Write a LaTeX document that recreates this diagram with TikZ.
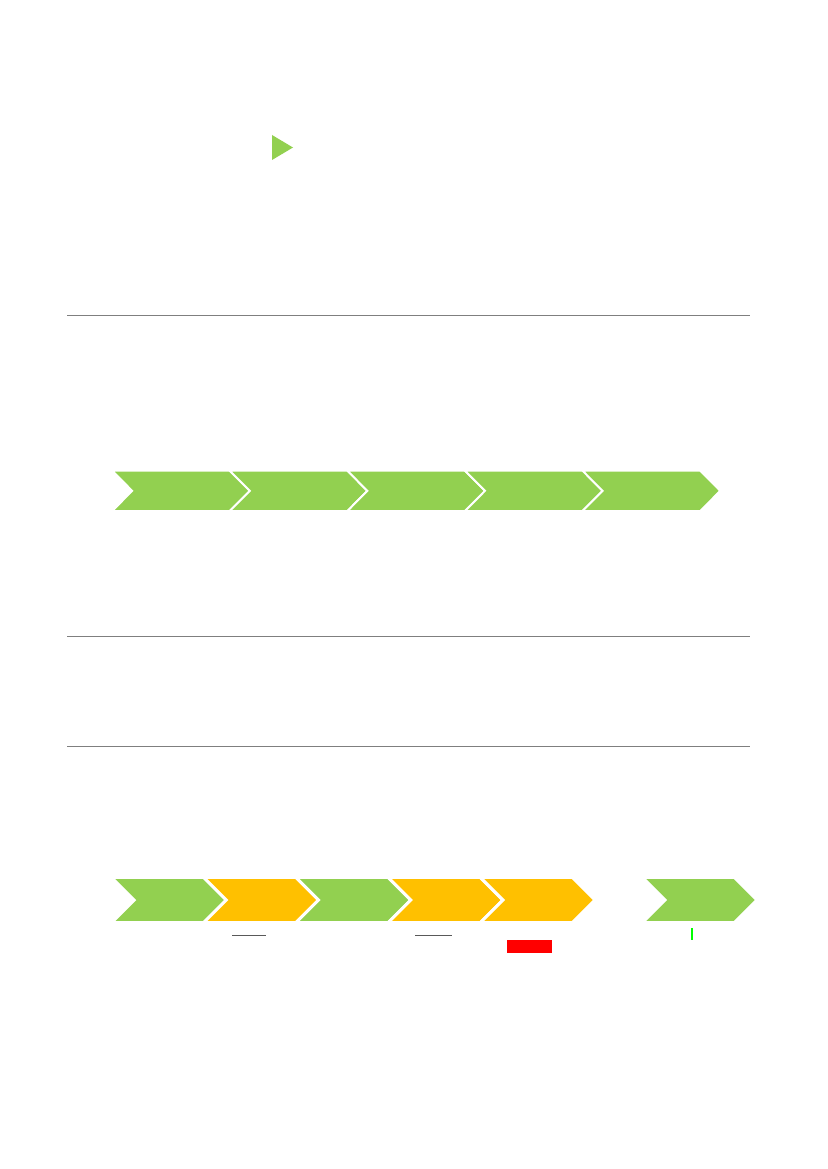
\documentclass[tikz,border=0pt]{standalone}
\usetikzlibrary{positioning}
\definecolor{chevgreen}{HTML}{92D050}
\definecolor{chevorange}{HTML}{FFC000}
\definecolor{rulegray}{HTML}{7F7F7F}
\definecolor{markgray}{HTML}{595959}
\definecolor{tickgreen}{HTML}{00FF00}
\tikzset{
    raw chevron/.style={draw=white, line join=miter},
    chev row1/.style={raw chevron, fill=chevgreen, line width=1.4pt},
    chev row2/.style={raw chevron, line width=2.1pt},
    rule/.style={draw=rulegray, line width=0.6pt},
    dashmark/.style={draw=markgray, line width=0.8pt}
}
% #1 style, #2 left, #3 top, #4 body width, #5 height, #6 tip depth
\newcommand{\chevron}[6]{%
    \path[#1] (#2,#3) -- ++(#4,0) -- ++(#6,#5/2) -- ++(-#6,#5/2)
        -- ++(-#4,0) -- ++(#6,-#5/2) -- cycle;}

\begin{document}
\begin{tikzpicture}[x=0.2539mm, y=-0.2539mm]
	\useasboundingbox (0,0) rectangle (827,1169);
	% play marker
	\fill[chevgreen] (272,135) -- (272,160) -- (293,147.5) -- cycle;
	% separators
	\draw[rule] (67,315) -- (750,315);
	\draw[rule] (67,636) -- (750,636);
	\draw[rule] (67,746.5) -- (750,746.5);
	% first process row
	\foreach \i in {0,...,4}
		\chevron{chev row1}{112.2+117.6*\i}{470.7}{117.6}{40.3}{20};
	% second process row
	\foreach \i/\c in {0/chevgreen,1/chevorange,2/chevgreen,3/chevorange,4/chevorange}
		\chevron{chev row2, fill=\c}{111.7+92.2*\i}{877.5}{92}{45}{22.5};
	\chevron{chev row2, fill=chevgreen}{642.5}{877.5}{92}{45}{22.5};
	% marks under the second row
	\draw[dashmark] (232.3,935.3) -- (266,935.3);
	\draw[dashmark] (415.3,935.3) -- (451.7,935.3);
	\fill[red] (506.7,940.3) rectangle (551.7,952.7);
	\draw[tickgreen, line width=1.2pt] (692.3,928.3) -- (692.3,940);
\end{tikzpicture}
\end{document}
